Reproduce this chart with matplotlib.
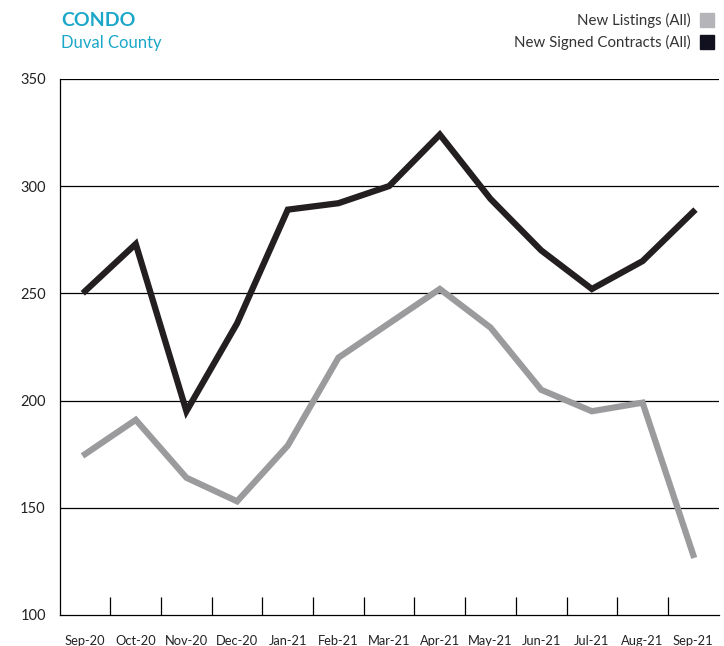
import matplotlib
matplotlib.use("Agg")
import matplotlib.pyplot as plt
from matplotlib.patches import Rectangle
import numpy as np

plt.rcParams['font.family'] = ['Lato', 'DejaVu Sans']

months = ["Sep-20", "Oct-20", "Nov-20", "Dec-20", "Jan-21", "Feb-21", "Mar-21",
          "Apr-21", "May-21", "Jun-21", "Jul-21", "Aug-21", "Sep-21"]
new_listings = [175, 191, 164, 153, 179, 220, 236, 252, 234, 205, 195, 199, 128]
new_contracts = [251, 273, 195, 236, 289, 292, 300, 324, 294, 270, 252, 265, 288]
y_ticks = [100, 150, 200, 250, 300, 350]

c_list = "#9b9b9d"
c_contr = "#231f20"
c_title = "#1aa7c9"

fig = plt.figure(figsize=(7.24, 6.46), dpi=100)
ax = fig.add_axes([0.0825, 0.048, 0.910, 0.830])

x = np.arange(len(months))
ax.plot(x, new_listings, color=c_list, lw=4.5, solid_joinstyle='miter', zorder=3)
ax.plot(x, new_contracts, color=c_contr, lw=4.5, solid_joinstyle='miter', zorder=4)

ax.set_xlim(-0.5, len(months) - 0.5)
ax.set_ylim(100, 350)
ax.set_yticks(y_ticks)
ax.set_yticklabels([str(v) for v in y_ticks], fontsize=10.5, color="#222222")
ax.tick_params(axis='y', length=0, pad=10)
for v in y_ticks[1:]:
    ax.axhline(v, color="black", lw=0.9, zorder=1)

ax.set_xticks(x)
ax.set_xticklabels(months, fontsize=9.3, color="#222222")
ax.tick_params(axis='x', which='major', length=0, pad=14.5)
ax.set_xticks(np.arange(0.5, len(months) - 0.5, 1), minor=True)
ax.tick_params(axis='x', which='minor', direction='in', length=13, width=0.9, color='black')

for s in ['top', 'right']:
    ax.spines[s].set_visible(False)
for s in ['left', 'bottom']:
    ax.spines[s].set_linewidth(0.9)
    ax.spines[s].set_color('black')

fig.text(0.084, 0.969, "CONDO", color=c_title, fontsize=14, fontweight='bold', va='center', ha='left')
fig.text(0.084, 0.934, "Duval County", color=c_title, fontsize=12, va='center', ha='left')

fig.text(0.954, 0.969, "New Listings (All)", color="#333333", fontsize=10.8, va='center', ha='right')
fig.text(0.954, 0.935, "New Signed Contracts (All)", color="#333333", fontsize=10.8, va='center', ha='right')
sq = 14 / 724
sqh = 14 / 646
fig.patches.append(Rectangle((0.967, 0.969 - sqh / 2), sq, sqh, transform=fig.transFigure,
                             color="#b4b4b9", figure=fig))
fig.patches.append(Rectangle((0.967, 0.935 - sqh / 2), sq, sqh, transform=fig.transFigure,
                             color="#11111f", figure=fig))

fig.savefig("out.png", dpi=100)
